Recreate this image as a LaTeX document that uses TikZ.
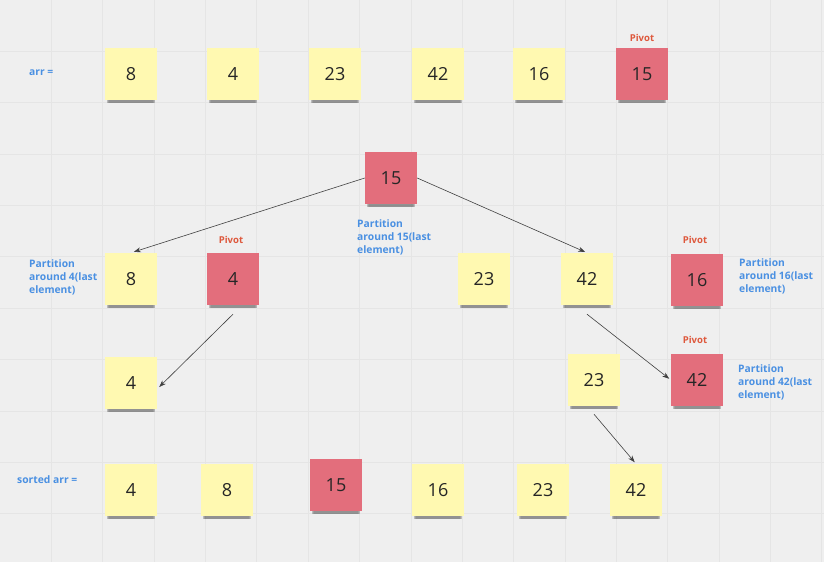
\documentclass[tikz,border=0pt]{standalone}
\usepackage{fontspec}
\setmainfont{Open Sans}
\usetikzlibrary{arrows.meta,shadows}
\definecolor{bgC}{RGB}{239,239,239}
\definecolor{gridC}{RGB}{229,229,229}
\definecolor{clrY}{RGB}{255,249,177}
\definecolor{clrR}{RGB}{227,110,124}
\definecolor{clrBl}{RGB}{74,144,226}
\definecolor{clrP}{RGB}{222,88,60}
\tikzset{
  note/.style={rectangle,fill=clrY,minimum width=52pt,minimum height=52pt,inner sep=0pt,
    font=\fontsize{18}{20}\selectfont,text=black!85,
    drop shadow={shadow xshift=0pt,shadow yshift=-8pt,opacity=0.08,fill=black,shadow scale=0.86},
    drop shadow={shadow xshift=0pt,shadow yshift=-6.5pt,opacity=0.14,fill=black,shadow scale=0.89},
    drop shadow={shadow xshift=0pt,shadow yshift=-5pt,opacity=0.22,fill=black,shadow scale=0.92}},
  pivnote/.style={note,fill=clrR},
  lbl/.style={font=\fontsize{10.3}{13}\selectfont\bfseries,text=clrBl,align=left,anchor=west,inner sep=0pt},
  pivlbl/.style={font=\fontsize{9.5}{11}\selectfont\bfseries,text=clrP,inner sep=0pt},
  arrow/.style={-{Stealth[length=7pt,width=5pt]},semithick,color=black!75}
}
\begin{document}
\begin{tikzpicture}[x=1pt,y=-1pt]
  \fill[bgC] (0,0) rectangle (824,562);
  \useasboundingbox (0,0) rectangle (824,562);
  % grid
  \foreach \k in {1,...,16} \draw[gridC,line width=0.6pt] (\k*51.35,0) -- (\k*51.35,562);
  \foreach \k in {1,...,10} \draw[gridC,line width=0.6pt] (0,\k*51.35) -- (824,\k*51.35);
  % input array
  \node[lbl] (arrlbl) at (29,73) {arr =};
  \node[note] (a8) at (131,74) {8};
  \node[note] (a4) at (233,74) {4};
  \node[note] (a23) at (335,74) {23};
  \node[note] (a42) at (438,74) {42};
  \node[note] (a16) at (539,74) {16};
  \node[pivnote] (a15) at (642,74) {15};
  \node[pivlbl] (piv15) at (642,38) {Pivot};
  % first partition
  \node[pivnote] (root) at (391,178) {15};
  \node[lbl] (part15) at (357,237) {Partition\\around 15(last\\element)};
  % second level
  \node[lbl] (part4) at (29,277) {Partition\\around 4(last\\element)};
  \node[note] (b8) at (131,279) {8};
  \node[pivnote] (b4) at (233,279) {4};
  \node[pivlbl] (piv4) at (231,240) {Pivot};
  \node[note] (b23) at (484,279) {23};
  \node[note] (b42) at (587,279) {42};
  \node[pivnote] (b16) at (697,280) {16};
  \node[pivlbl] (piv16) at (695,240) {Pivot};
  \node[lbl] (part16) at (739,276) {Partition\\around 16(last\\element)};
  % third level
  \node[note] (c4) at (131,383) {4};
  \node[note] (c23) at (594,380) {23};
  \node[pivnote] (c42) at (697,380) {42};
  \node[pivlbl] (piv42) at (695,340) {Pivot};
  \node[lbl] (part42) at (738,382) {Partition\\around 42(last\\element)};
  % result
  \node[lbl] (sortlbl) at (17,480) {sorted arr =};
  \node[note] (d4) at (131,490) {4};
  \node[note] (d8) at (227,490) {8};
  \node[pivnote] (d15) at (336,485) {15};
  \node[note] (d16) at (438,490) {16};
  \node[note] (d23) at (543,490) {23};
  \node[note] (d42) at (636,490) {42};
  % arrows
  \draw[arrow,shorten >=3pt] (root.west) -- (b8.north);
  \draw[arrow,shorten >=2pt] (root.east) -- (b42.north);
  \draw[arrow] ([yshift=-9pt]b4.south) -- ([xshift=2pt,yshift=-4pt]c4.east);
  \draw[arrow,shorten >=2pt] ([yshift=-9pt]b42.south) -- (c42.west);
  \draw[arrow,shorten >=2pt] ([yshift=-8pt]c23.south) -- (d42.north);
\end{tikzpicture}
\end{document}
